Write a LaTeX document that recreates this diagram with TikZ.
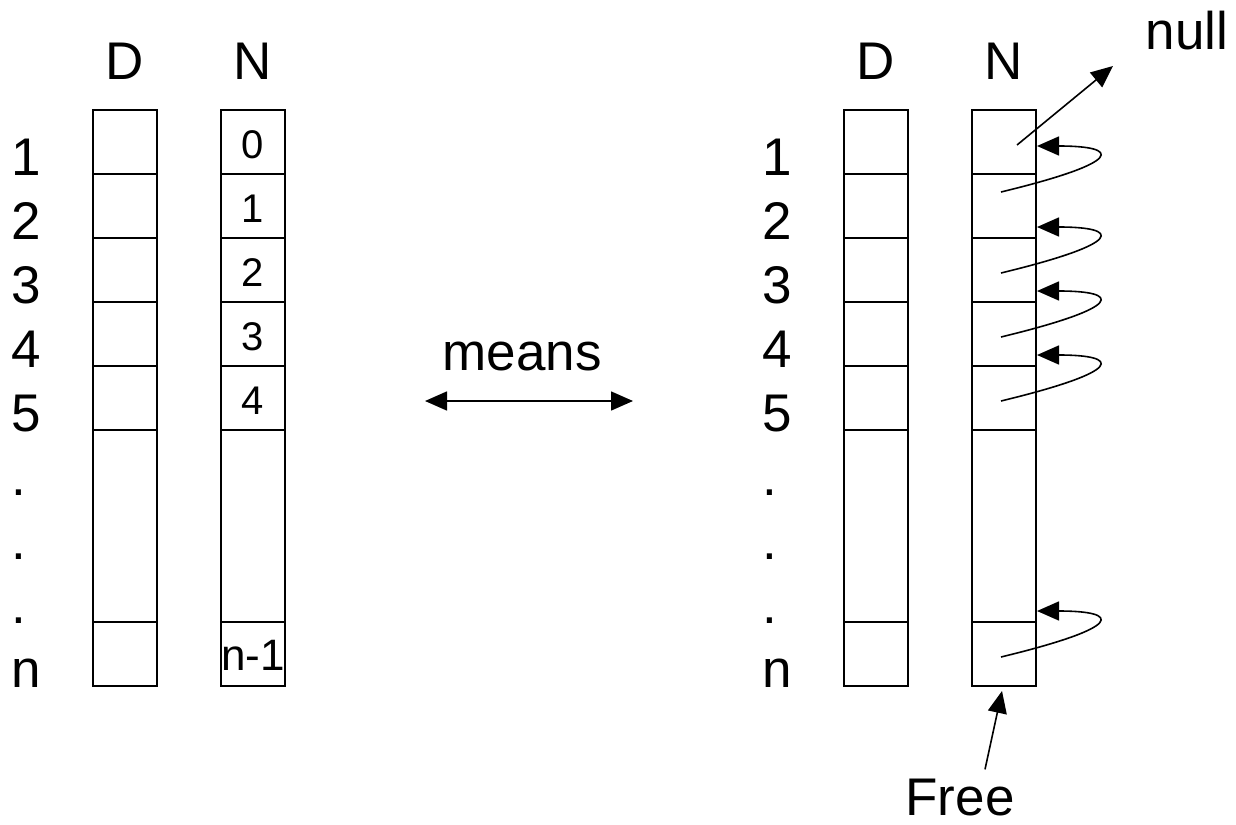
\documentclass[tikz,border=0pt]{standalone}
\usepackage{fontspec}
\setmainfont{Liberation Sans}
\usetikzlibrary{arrows.meta}
\tikzstyle{cell} = [rectangle, draw, line width=2pt, minimum width=64pt, minimum height=64pt, inner sep=0pt, text height=32pt, text depth=0pt, font=\fontsize{40}{48}\selectfont]
\tikzstyle{bigcell} = [cell, minimum height=192pt]
\tikzstyle{lbl} = [anchor=base west, inner sep=0pt, font=\fontsize{53}{60}\selectfont]
\tikzstyle{head} = [anchor=base, inner sep=0pt, font=\fontsize{53}{60}\selectfont]
\tikzstyle{arrow} = [line width=1.6pt, -{Triangle[length=22pt,width=19pt]}]
\tikzstyle{both} = [line width=1.6pt, {Triangle[length=22pt,width=19pt]}-{Triangle[length=22pt,width=19pt]}]

\begin{document}
\begin{tikzpicture}[x=1pt, y=-1pt]
\useasboundingbox (0,0) rectangle (1236,824);

% both tables, right one shifted
\foreach \side/\dx in {l/0, r/751} {
  \node (\side hd) [head] at (125+\dx,80) {D};
  \node (\side hn) [head] at (253+\dx,80) {N};
  \foreach \t [count=\i] in {1,2,3,4,5,.,.,.,n}
    \node (\side lab\i) [lbl] at (11+\dx,111+64*\i) {\t};
  \foreach \i in {1,...,5}
    \node (\side d\i) [cell] at (125+\dx,78+64*\i) {};
  \node (\side dm) [bigcell] at (125+\dx,526) {};
  \node (\side dn) [cell] at (125+\dx,654) {};
}

% left N column
\foreach \i in {1,...,5} {
  \pgfmathtruncatemacro{\v}{\i-1}
  \node (ln\i) [cell] at (253,78+64*\i) {\v};
}
\node (lnm) [bigcell] at (253,526) {};
\node (lnn) [cell, font=\fontsize{44}{50}\selectfont] at (253,654) {n-1};

% right N column
\foreach \i in {1,...,5}
  \node (rn\i) [cell] at (1004,78+64*\i) {};
\node (rnm) [bigcell] at (1004,526) {};
\node (rnn) [cell] at (1004,654) {};

% middle
\node (means) [head] at (522,370) {means};
\coordinate (mleft) at (425,401);
\coordinate (mright) at (633,401);
\draw [both] (mleft) -- (mright);

% free list
\node (null) [head] at (1187,50) {null};
\coordinate (nulltip) at (1113,66);
\node (free) [head] at (960,815) {Free};

\draw [arrow] ([xshift=13pt,yshift=-3pt]rn1.center) -- (nulltip);
\draw [arrow] ([xshift=-3pt,yshift=14pt]rn2.center) .. controls +(124,-30) and +(84,0) .. ([yshift=-4pt]rn1.east);
\foreach \a/\b in {3/2, 4/3, 5/4}
  \draw [arrow] ([xshift=-3pt,yshift=-3pt]rn\a.center) .. controls +(124,-30) and +(84,0) .. ([yshift=-21pt]rn\b.east);
\draw [arrow] ([xshift=-3pt,yshift=-3pt]rnn.center) .. controls +(124,-30) and +(84,0) .. ([yshift=12pt]rnm.south east);
\draw [arrow] ([xshift=25pt,yshift=9pt]free.north) -- ([xshift=-2pt,yshift=-4pt]rnn.south);

\end{tikzpicture}
\end{document}
